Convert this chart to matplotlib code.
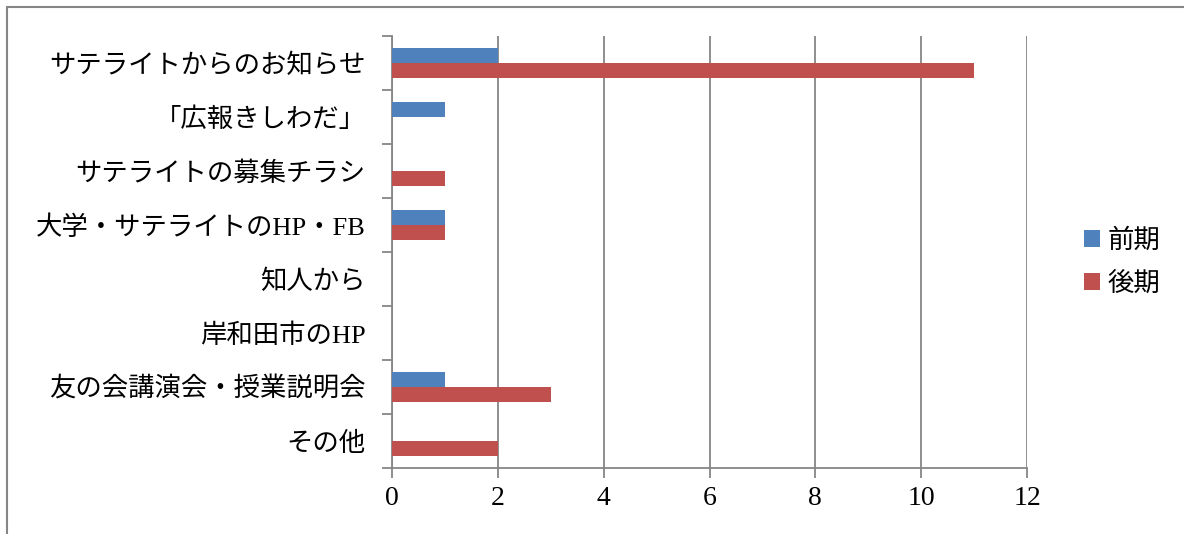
import numpy as np
import matplotlib.pyplot as plt
from matplotlib.patches import Rectangle

categories = ['サテライトからのお知らせ', '「広報きしわだ」', 'サテライトの募集チラシ',
              '大学・サテライトのHP・FB', '知人から', '岸和田市のHP',
              '友の会講演会・授業説明会', 'その他']
zenki = [2, 1, 0, 1, 0, 0, 1, 0]
kouki = [11, 0, 1, 1, 0, 0, 3, 2]
series_names = ['前期', '後期']

fam = ['Liberation Serif', 'Noto Sans CJK JP']
plt.rcParams['font.family'] = fam
grid_c = '#868686'

fig = plt.figure(figsize=(11.84, 5.34), dpi=100)
ax = fig.add_axes([392/1184, 1-468/534, (1027-392)/1184, (468-36)/534])

n = len(categories)
y = np.arange(n)
h = 0.278
ax.barh(y - h/2, zenki, height=h, color='#4F81BD', label=series_names[0], zorder=3)
ax.barh(y + h/2, kouki, height=h, color='#C0504D', label=series_names[1], zorder=3)

ax.set_xlim(0, 12)
ax.set_ylim(n - 0.5, -0.5)
ax.set_xticks(range(0, 13, 2))
ax.set_yticks(y)
ax.set_yticklabels(categories)
ax.set_yticks(np.arange(-0.5, n, 1), minor=True)
ax.tick_params(axis='y', which='major', length=0, pad=19, labelsize=19)
ax.tick_params(axis='y', which='minor', length=7, color=grid_c, width=1.3)
ax.tick_params(axis='x', length=7, color=grid_c, width=1.3, labelsize=20, pad=6)
ax.grid(axis='x', color=grid_c, linewidth=1.3, zorder=0)
for s in ['top', 'right']:
    ax.spines[s].set_visible(False)
for s in ['left', 'bottom']:
    ax.spines[s].set_color(grid_c)
    ax.spines[s].set_linewidth(1.3)

ax.legend(loc='center left', bbox_to_anchor=(1060/1184, 272/534), bbox_transform=fig.transFigure,
          frameon=False, fontsize=19, handlelength=0.6, handleheight=0.6,
          handletextpad=0.3, labelspacing=0.7)

fig.patches.append(Rectangle((7/1184, -0.1), 1.2, (527+53)/534, transform=fig.transFigure,
                             fill=False, edgecolor=grid_c, linewidth=1.5))

fig.savefig('out.png', dpi=100)
